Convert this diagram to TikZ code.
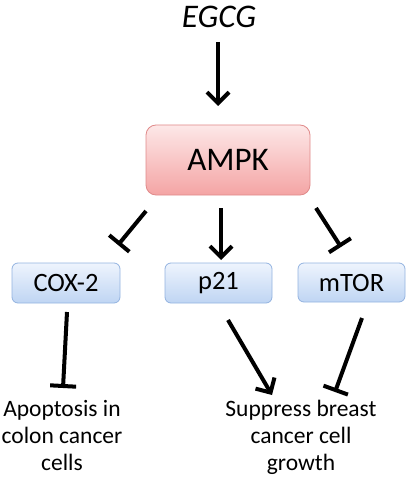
\documentclass[tikz,border=0pt]{standalone}
\usepackage{fontspec}
\setmainfont{Carlito}
\usetikzlibrary{arrows.meta}
\definecolor{redtop}{HTML}{FDE8E8}
\definecolor{redbot}{HTML}{F4A4A4}
\definecolor{redline}{HTML}{E08A8A}
\definecolor{bluetop}{HTML}{EEF4FD}
\definecolor{bluebot}{HTML}{BFD5F3}
\definecolor{blueline}{HTML}{93B3E0}
\begin{document}
\begin{tikzpicture}[x=1pt,y=-1pt,
  redbox/.style={draw=redline, line width=0.8pt, rounded corners=10pt,
    top color=redtop, bottom color=redbot, minimum width=164pt, minimum height=70pt,
    inner sep=0pt, font=\fontsize{33}{38}\selectfont},
  bluebox/.style={draw=blueline, line width=0.8pt, rounded corners=6pt,
    top color=bluetop, bottom color=bluebot, minimum width=107pt, minimum height=40pt,
    inner sep=0pt, font=\fontsize{26.5}{30}\selectfont},
  lbl/.style={align=center, inner sep=0pt, anchor=north, font=\fontsize{23.5}{27}\selectfont},
  act/.style={line width=4pt, -{Straight Barb[length=11pt,width=22pt]}},
  inh/.style={line width=4pt, -{Bar[width=26pt]}}]
\useasboundingbox (0,0) rectangle (413,478);
\node[inner sep=0pt, font=\fontsize{33}{38}\itshape] (egcg) at (219,17) {EGCG};
\node[redbox] (ampk) at (228,160) {AMPK};
\node[bluebox, minimum width=108pt] (cox) at (66,283) {COX-2};
\node[bluebox] (p21) at (218.5,283) {p21};
\node[bluebox, minimum height=39pt] (mtor) at (351.5,282.5) {mTOR};
\node[lbl] (apo) at (62,400) {Apoptosis in\\colon cancer\\cells};
\node[lbl] (sup) at (301,400) {Suppress breast\\cancer cell\\growth};
\coordinate (e1) at (218,42);
\coordinate (e2) at (218,106);
\coordinate (a1) at (146,211);
\coordinate (a2) at (118,245);
\coordinate (p1) at (221,208);
\coordinate (p2) at (221,260);
\coordinate (m1) at (316,208);
\coordinate (m2) at (341,247);
\coordinate (c1) at (67,312);
\coordinate (c2) at (63,388);
\coordinate (q1) at (228,320);
\coordinate (q2) at (272,395);
\coordinate (t1) at (362,318);
\coordinate (t2) at (335,392);
\draw[act] (e1) -- (e2);
\draw[inh] (a1) -- (a2);
\draw[act] (p1) -- (p2);
\draw[inh] (m1) -- (m2);
\draw[inh] (c1) -- (c2);
\draw[act] (q1) -- (q2);
\draw[inh] (t1) -- (t2);
\end{tikzpicture}
\end{document}
